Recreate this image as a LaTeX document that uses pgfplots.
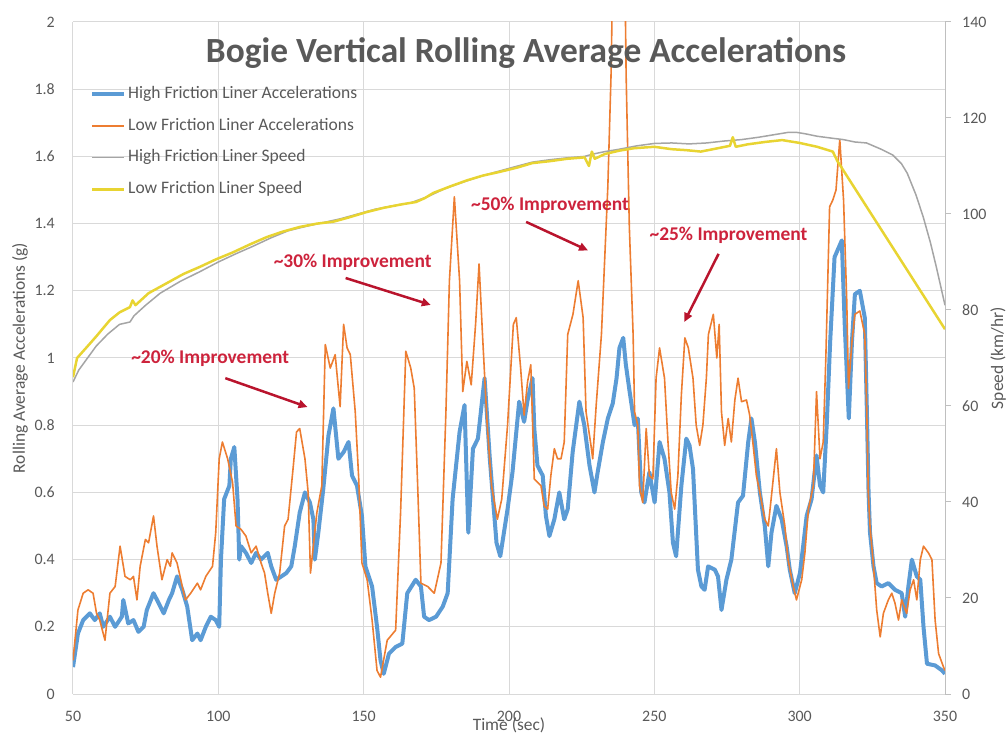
\documentclass[border=0pt]{standalone}
\usepackage{fontspec}
\setmainfont{Carlito}
\usepackage{pgfplots}
\pgfplotsset{compat=1.18}
\usetikzlibrary{arrows.meta}

\definecolor{hfblue}{HTML}{5B9BD5}
\definecolor{lforange}{HTML}{ED7D31}
\definecolor{hfgray}{HTML}{A5A5A5}
\definecolor{lfyellow}{RGB}{232,212,50}
\definecolor{txtgray}{HTML}{595959}
\definecolor{gridgray}{HTML}{D9D9D9}
\definecolor{axisgray}{HTML}{BFBFBF}
\definecolor{annot}{RGB}{205,35,60}
\definecolor{arrowred}{RGB}{185,20,45}

\begin{document}
\begin{tikzpicture}
\path[use as bounding box] (-73bp,-41bp) rectangle (934bp,694bp);
\begin{axis}[
  scale only axis, width=872bp, height=672bp,
  xmin=50, xmax=350, ymin=0, ymax=2,
  xtick={50,100,150,200,250,300,350},
  ytick={0,0.2,0.4,0.6,0.8,1,1.2,1.4,1.6,1.8,2},
  grid=major,
  major grid style={gridgray, line width=1bp},
  axis line style={draw=none},
  major tick length=0pt,
  /pgf/number format/assume math mode=true,
  ticklabel style={font=\fontsize{16}{19}\selectfont, text=txtgray},
  x tick label style={anchor=center, yshift=-22bp},
  y tick label style={anchor=east, inner sep=0pt, xshift=-18bp},
  xlabel={Time (sec)},
  xlabel style={at={(axis description cs:0.5,-0.0461)}, anchor=center, font=\fontsize{17.5}{20}\selectfont, text=txtgray},
  ylabel={Rolling Average Accelerations (g)},
  ylabel style={at={(axis description cs:-0.0608,0.5)}, anchor=center, font=\fontsize{17.5}{20}\selectfont, text=txtgray},
  legend style={draw=none, fill=none, at={(axis description cs:0.016,0.909)}, anchor=north west,
    font=\fontsize{17.6}{20}\selectfont, text=txtgray, row sep=13.7bp, column sep=1bp,
    nodes={inner sep=1bp, text height=12bp, text depth=4bp}},
  legend cell align=left,
  legend image code/.code={\draw[#1] (0bp,0bp) -- (32bp,0bp);},
]
\draw[axisgray, line width=1bp] (rel axis cs:0,0) -- (rel axis cs:1,0);

\addplot[hfblue, line width=4bp, line join=round] coordinates {
(50,0.08) (51.7,0.18) (53.5,0.22) (55.8,0.24) (57.5,0.22) (59.2,0.24) (60.4,0.20) (62.7,0.23)
(64.5,0.20) (66.8,0.23) (67.3,0.28) (69,0.21) (70.8,0.22) (72.5,0.185) (74.3,0.20) (75.4,0.25)
(77.7,0.30) (79.5,0.27) (81.2,0.24) (83,0.28) (84.1,0.30) (85.8,0.35) (87.6,0.31) (89.3,0.26)
(91,0.16) (92.8,0.18) (93.9,0.16) (95.7,0.20) (97.4,0.23) (99.1,0.22) (100.3,0.20) (100.9,0.40)
(102,0.58) (103.8,0.62) (104.3,0.70) (105.5,0.735) (106.6,0.58) (107.2,0.40) (107.8,0.44)
(109.5,0.42) (111.3,0.39) (113,0.42) (114.7,0.40) (117,0.42) (118.2,0.38) (119.9,0.34)
(121.7,0.35) (123.4,0.36) (125.1,0.38) (126.3,0.44) (128,0.54) (129.8,0.60) (131.5,0.57)
(132.7,0.52) (133.2,0.40) (134.4,0.48) (136.1,0.61) (137.9,0.77) (139.6,0.85) (141.3,0.70)
(143.1,0.72) (144.8,0.75) (146,0.65) (147.7,0.62) (149.4,0.53) (150.6,0.38) (152.9,0.32)
(154.6,0.20) (155.8,0.10) (156.9,0.06) (158.7,0.12) (161,0.14) (163.3,0.15) (165,0.30)
(167.9,0.34) (169.7,0.32) (170.8,0.23) (172.5,0.22) (174.9,0.23) (177.2,0.26) (178.9,0.30)
(180.6,0.58) (183,0.78) (184.7,0.86) (186,0.48) (187.6,0.73) (189.3,0.76) (191.6,0.94)
(193.4,0.70) (195.7,0.45) (197,0.41) (199.5,0.55) (201.2,0.66) (203.5,0.87) (205.2,0.81)
(206.4,0.875) (208.1,0.94) (208.7,0.79) (209.8,0.68) (211.6,0.65) (212.7,0.53) (213.9,0.47)
(215.6,0.52) (217.3,0.60) (219,0.52) (220.2,0.55) (221.9,0.72) (224.2,0.87) (225.9,0.80)
(227.7,0.68) (229.4,0.60) (230.5,0.66) (232.3,0.75) (234,0.82) (235.7,0.865) (237,0.94)
(238,1.03) (239.3,1.06) (240.2,0.98) (241.5,0.90) (243.2,0.80) (244.3,0.82) (245.5,0.60)
(246.6,0.57) (248.3,0.66) (250.1,0.57) (251.8,0.75) (253.5,0.70) (255.2,0.60) (256.4,0.45)
(257.5,0.41) (259.3,0.62) (261,0.76) (262.1,0.74) (263.3,0.67) (265,0.37) (266.2,0.32)
(267.3,0.31) (268.5,0.38) (270.8,0.37) (271.9,0.35) (273.1,0.25) (274.8,0.34) (276.5,0.40)
(278.8,0.57) (280.5,0.59) (282.3,0.75) (283.4,0.82) (284.6,0.75) (286.3,0.60) (288,0.50)
(289.2,0.38) (290.3,0.48) (292,0.56) (293.8,0.52) (295.5,0.44) (296.6,0.37) (298.3,0.30)
(300.1,0.36) (301.2,0.44) (302.4,0.53) (304.1,0.58) (305.8,0.71) (307,0.62) (308.1,0.60)
(309.3,0.80) (310.5,1.05) (312,1.30) (314.5,1.35) (315.5,1.10) (316.9,0.82) (318,1.05)
(319,1.19) (320.7,1.20) (322.4,1.12) (323.1,0.85) (323.7,0.60) (324.2,0.48) (325.4,0.38)
(326.5,0.33) (328.2,0.32) (330.5,0.33) (332.8,0.31) (335.1,0.30) (336.3,0.23) (337.4,0.32)
(338.6,0.40) (340.3,0.35) (341.5,0.34) (342.6,0.20) (343.8,0.09) (346.6,0.085) (349,0.07)
(350,0.06)
};
\addlegendentry{High Friction Liner Accelerations}

\addplot[lforange, line width=1.6bp, line join=round] coordinates {
(50,0.10) (51.7,0.25) (53.5,0.30) (55.2,0.31) (56.9,0.30) (58.1,0.24) (59.2,0.22) (61,0.16)
(62.7,0.30) (64.5,0.32) (66.2,0.44) (67.9,0.35) (69.7,0.34) (70.8,0.35) (72,0.28) (73.1,0.38)
(74.9,0.46) (76,0.45) (77.7,0.53) (78.9,0.44) (80.6,0.34) (82.4,0.40) (83.5,0.38) (84.1,0.42)
(85.8,0.39) (87.6,0.32) (88.7,0.28) (90.5,0.30) (92.8,0.33) (93.9,0.31) (95.7,0.35) (98,0.38)
(99.1,0.48) (100.3,0.70) (101.4,0.75) (103.2,0.70) (104.9,0.63) (106.1,0.50) (107.8,0.49)
(109.5,0.47) (111.3,0.42) (113,0.44) (114.7,0.39) (115.9,0.36) (117,0.30) (118.2,0.24)
(119.4,0.30) (121.1,0.36) (122.8,0.50) (124,0.52) (125.7,0.67) (126.9,0.78) (128,0.79)
(129.8,0.70) (130.9,0.60) (131.7,0.36) (133.9,0.54) (135.6,0.62) (136.8,1.04) (138.5,0.97)
(140.2,1.01) (141.4,0.90) (141.9,0.855) (143.1,1.10) (144.3,1.03) (145.4,1.01) (147.1,0.84)
(148.3,0.64) (149.4,0.39) (151.2,0.34) (152.9,0.22) (154.6,0.07) (155.8,0.05) (158.1,0.16)
(161,0.19) (162.7,0.54) (164.5,1.02) (166.2,0.97) (167.4,0.91) (168.5,0.64) (169.7,0.33)
(172,0.32) (174.3,0.30) (176.6,0.39) (178.3,0.84) (179.5,1.23) (181.2,1.48) (183,1.23)
(184.1,0.90) (185.5,0.99) (187,0.92) (188.5,1.10) (189.7,1.28) (191,1.05) (192.5,0.80)
(194,0.62) (196,0.52) (197.5,0.58) (199.5,0.80) (201.5,1.10) (202.5,1.12) (204,0.97)
(205.2,0.83) (206.4,0.93) (207.5,0.98) (208.7,0.64) (209.8,0.63) (211,0.62) (212.1,0.56)
(213.3,0.55) (214.4,0.65) (215.6,0.73) (216.7,0.70) (217.9,0.70) (219,0.75) (220.2,1.07)
(222,1.13) (223.8,1.23) (225.5,1.12) (226.5,0.84) (228.2,0.74) (228.8,0.70) (230,0.86)
(231.8,1.07) (234,1.51) (235.1,1.84) (235.8,2.2) (239.8,2.2) (240.3,1.84) (241.4,1.39)
(242.7,1.07) (243.2,0.84) (244.3,0.80) (244.9,0.62) (246,0.57) (247.2,0.79) (248.3,0.65)
(249.5,0.64) (250.6,0.94) (251.8,1.03) (253.5,0.94) (254.7,0.75) (255.8,0.60) (257,0.55)
(258.1,0.65) (259.3,0.89) (260.5,1.06) (261.7,1.03) (263.3,0.94) (264.4,0.80) (265.6,0.74)
(266.7,0.80) (267.9,0.94) (268.6,1.07) (270.3,1.13) (271.5,1.00) (272.3,1.10) (273.1,0.84)
(274.2,0.74) (275.4,0.82) (276.5,0.75) (277.7,0.875) (278.8,0.94) (280,0.87) (281.7,0.875)
(282.8,0.83) (284,0.74) (285.1,0.65) (286.3,0.60) (288,0.52) (289.2,0.50) (290.3,0.59)
(292,0.73) (293.2,0.60) (294.9,0.50) (296,0.40) (297.8,0.32) (298.9,0.28) (300.7,0.34)
(301.8,0.42) (303,0.55) (304.7,0.62) (305.8,0.90) (307,0.70) (308.1,0.75) (309,1.00)
(310.3,1.45) (311.4,1.47) (312.5,1.50) (313.8,1.65) (315.1,1.47) (316.2,1.17) (316.8,0.91)
(318,1.05) (319,1.13) (320.7,1.14) (322.4,1.07) (323.1,0.84) (323.6,0.60) (324.2,0.50)
(325.4,0.38) (326.5,0.25) (327.7,0.17) (328.8,0.24) (330.5,0.28) (331.7,0.30) (332.8,0.27)
(334,0.22) (335.1,0.28) (336.8,0.24) (338,0.31) (339.2,0.34) (340.3,0.28) (341.5,0.40)
(342.6,0.44) (344.3,0.42) (345.5,0.40) (346.6,0.22) (347.8,0.12) (349.5,0.08) (350,0.07)
};
\addlegendentry{Low Friction Liner Accelerations}
\addlegendimage{hfgray, line width=1.5bp}
\addlegendentry{High Friction Liner Speed}
\addlegendimage{lfyellow, line width=2.5bp}
\addlegendentry{Low Friction Liner Speed}

\node[font=\bfseries\fontsize{35.5}{40}\selectfont, text=txtgray] at (axis cs:205.9,1.908) {Bogie Vertical Rolling Average Accelerations};

\node[font=\bfseries\fontsize{19.5}{22}\selectfont, text=annot] at (axis cs:97.2,1.0) {\textasciitilde 20\% Improvement};
\node[font=\bfseries\fontsize{19.5}{22}\selectfont, text=annot] at (axis cs:146.2,1.286) {\textasciitilde 30\% Improvement};
\node[font=\bfseries\fontsize{19.5}{22}\selectfont, text=annot] at (axis cs:214.1,1.455) {\textasciitilde 50\% Improvement};
\node[font=\bfseries\fontsize{19.5}{22}\selectfont, text=annot] at (axis cs:275.5,1.366) {\textasciitilde 25\% Improvement};

\draw[arrowred, line width=2.5bp, -{Triangle[length=9bp,width=8bp]}] (axis cs:102.4,0.94) -- (axis cs:130.7,0.854);
\draw[arrowred, line width=2.5bp, -{Triangle[length=9bp,width=8bp]}] (axis cs:143.8,1.238) -- (axis cs:173.1,1.158);
\draw[arrowred, line width=2.5bp, -{Triangle[length=9bp,width=8bp]}] (axis cs:205.9,1.405) -- (axis cs:227.2,1.32);
\draw[arrowred, line width=2.5bp, -{Triangle[length=9bp,width=8bp]}] (axis cs:272.1,1.31) -- (axis cs:260.3,1.107);
\end{axis}

\begin{axis}[
  scale only axis, width=872bp, height=672bp,
  xmin=50, xmax=350, ymin=0, ymax=140,
  axis x line=none,
  axis y line*=right,
  y axis line style={axisgray, line width=1bp},
  ytick={0,20,40,60,80,100,120,140},
  tick align=outside,
  major tick length=6bp,
  tick style={axisgray, line width=1bp},
  /pgf/number format/assume math mode=true,
  y tick label style={font=\fontsize{16}{19}\selectfont, text=txtgray, anchor=west, inner sep=0pt, xshift=11bp},
  ylabel={Speed (km/hr)},
  ylabel style={at={(axis description cs:1.0608,0.5)}, anchor=center, font=\fontsize{17.5}{20}\selectfont, text=txtgray},
]
\addplot[hfgray, line width=1.5bp, line join=round] coordinates {
(50,65) (52,67.5) (55,70) (58,72.5) (62,75) (66,77) (69.6,77.5) (71,78.8) (75,81) (80,83.5)
(87,86) (93.7,88) (100,90) (106,91.7) (112,93.3) (118,95) (124,96.5) (130,97.4) (136,98.2)
(142,99) (148,100) (154,101) (160,101.7) (166,102.3) (172,103.6) (178,105.3) (185,106.8)
(191,108) (197,109) (203,110) (208,110.8) (214,111.3) (220,111.7) (226,112) (229,112.5)
(233,113) (238,113.5) (244,114.2) (250,114.7) (256,114.8) (262,114.6) (268,114.8) (274,115.2)
(280,115.5) (286,116) (292,116.6) (296,117) (299,117) (302,116.7) (306,116.2) (311,115.8)
(315,115.5) (319,115) (323,114.8) (328,113.5) (332,112.3) (335,110.5) (337,108.5) (340,104)
(342.5,99.4) (345,94) (347,89) (350,81)
};
\addplot[lfyellow, line width=2.5bp, line join=round] coordinates {
(50,66) (51.4,70) (54.8,72.3) (58,74.5) (62.7,77.9) (66,79.5) (69.6,80.6) (70.5,82) (71.5,81)
(76,83.5) (82.3,85.6) (88,87.5) (93.7,89) (99,90.5) (105,92) (111,93.7) (116.7,95.2) (122,96.3)
(128,97.3) (134,98) (139.6,98.4) (145,99.3) (151,100.4) (157,101.3) (163,102) (168,102.5)
(171,103.3) (174,104.4) (180,105.8) (185.5,107) (191,108) (197,108.8) (203,109.7) (208,110.6)
(214,111) (220,111.5) (226,111.8) (227.5,110) (228.5,113) (229.5,111.5) (233,112.5) (238,113.2)
(243,113.7) (250,114) (256,113.5) (261,113.3) (266,113) (271,113.6) (276,114.2) (277,116)
(278,114) (282,114.5) (288,115) (294,115.4) (300,114.8) (306,114) (311.4,113) (313,111) (350,76)
};
\end{axis}
\end{tikzpicture}
\end{document}
